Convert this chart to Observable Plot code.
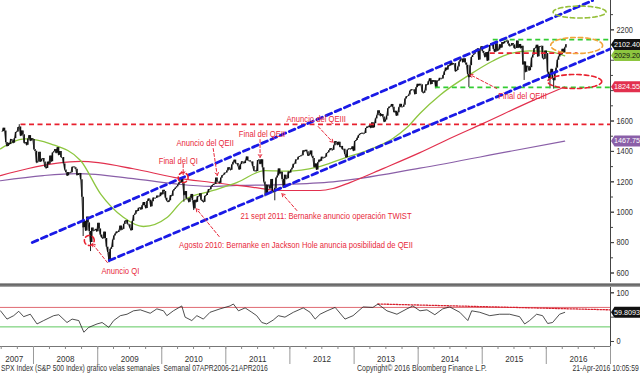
<!DOCTYPE html>
<html><head><meta charset="utf-8">
<script src="https://cdn.jsdelivr.net/npm/d3@7"></script>
<script src="https://cdn.jsdelivr.net/npm/@observablehq/plot@0.6"></script>
<style>
body{margin:0;background:#fff;}
#wrap{width:640px;height:373px;position:relative;overflow:hidden;font-family:"Liberation Sans","Arial",sans-serif;}
#wrap svg{display:block;}
.sep{position:absolute;left:0;top:283px;width:640px;height:4px;background:linear-gradient(#bbb,#666 35%,#777 65%,#bbb);}
.foot{position:absolute;top:364px;font-size:8.5px;color:#333;white-space:pre;line-height:9px;}
</style></head><body><div id="wrap"></div>
<script>
// ---------------- DATA ----------------
const firstWeek = "2007-07-06"; // weekly closes, one per week (Friday)
const c2007 = [1530,1553,1534,1459,1433,1453,1445,1479,1474,1454,1484,1525,1527,1557,1561,1501,1535,1509,1453,1458,1440,1481,1504,1468,1484,1478];
const c2008 = [1411,1401,1325,1330,1395,1331,1349,1353,1331,1294,1288,1330,1316,1370,1332,1390,1397,1413,1388,1425,1375,1400,1360,1360,1318,1278,1262,1239,1260,1257,1260,1296,1298,1292,1283,1242,1252,1255,1213,1099,899,940,877,968,930,873,800,896,876,880,887,872];
const c2009 = [927,890,850,832,826,869,827,770,735,683,756,768,816,843,857,870,866,877,909,883,887,919,940,946,921,918,896,879,940,979,987,1010,1005,1026,1029,1016,1042,1064,1044,1025,1071,1087,1079,1036,1069,1093,1091,1091,1106,1102,1102,1127,1115];
const c2010 = [1145,1136,1092,1074,1066,1075,1109,1105,1139,1150,1159,1167,1179,1194,1192,1217,1187,1111,1136,1088,1089,1065,1092,1117,1076,1023,1078,1065,1102,1102,1122,1079,1071,1065,1105,1110,1126,1149,1147,1166,1176,1183,1183,1225,1200,1199,1190,1224,1240,1244,1257,1258];
const c2011 = [1271,1293,1283,1276,1311,1329,1343,1320,1321,1304,1279,1313,1332,1328,1320,1337,1364,1340,1338,1333,1331,1300,1271,1272,1268,1340,1344,1316,1345,1292,1199,1179,1124,1177,1174,1154,1216,1136,1131,1155,1225,1238,1285,1253,1263,1216,1159,1244,1219,1220,1265,1258];
const c2012 = [1278,1289,1315,1316,1344,1343,1361,1366,1370,1371,1404,1398,1408,1398,1370,1378,1403,1369,1353,1295,1318,1278,1325,1343,1335,1362,1355,1357,1362,1386,1391,1405,1418,1411,1407,1438,1466,1460,1441,1461,1428,1433,1412,1414,1380,1359,1409,1416,1418,1413,1430,1402];
const c2013 = [1466,1472,1486,1503,1513,1518,1520,1516,1518,1551,1561,1557,1569,1553,1588,1555,1582,1614,1634,1667,1650,1631,1643,1626,1593,1606,1632,1680,1692,1692,1709,1691,1656,1664,1633,1655,1688,1710,1692,1691,1703,1745,1760,1762,1771,1798,1805,1806,1805,1775,1819,1842];
const c2014 = [1831,1842,1838,1790,1783,1797,1838,1836,1859,1878,1841,1866,1857,1865,1816,1864,1863,1881,1878,1877,1900,1924,1949,1936,1963,1961,1985,1968,1978,1978,1925,1932,1955,1988,2003,2008,1985,2010,1982,1967,1906,1887,1964,2018,2032,2039,2064,2068,2075,2002,2071,2089];
const c2015 = [2058,2045,2019,2051,1995,2055,2097,2110,2105,2071,2053,2108,2061,2067,2102,2081,2117,2108,2122,2123,2126,2107,2092,2094,2110,2101,2077,2077,2127,2080,2104,2078,2092,1971,1989,1921,1961,1958,1931,1951,2014,2033,2075,2079,2099,2023,2089,2090,2092,2012,2006,2061,2044];
const c2016 = [1922,1880,1907,1940,1880,1865,1918,1948,2000,2022,2050,2036,2073,2048,2081,2102];

// intraweek extremes (wicks) of notable weeks
const wickWeeks  = ["2007-10-12","2008-10-10","2008-11-21","2009-03-06","2010-05-07","2010-07-02","2011-08-12","2011-10-07","2014-10-17","2015-05-22","2015-08-28","2016-01-22","2016-02-12"];
const wickValues = [1576,840,741,667,1066,1011,1101,1075,1821,2134,1867,1812,1810];

// moving averages
const ma50Dates  = ["2007-06-27","2007-11-15","2008-04-07","2008-09-25","2009-01-17","2009-05-27","2009-09-18","2010-02-02","2010-05-03","2010-10-21","2011-03-07","2011-08-12","2011-12-15","2012-06-04","2012-10-29","2013-03-15","2013-08-10","2013-10-29","2014-01-11","2014-05-05","2014-10-22","2015-03-02","2015-06-06","2015-09-28","2016-01-09","2016-04-15"];
const ma50Values = [1417,1483,1450,1340,1121,967,906,967,1077,1143,1197,1274,1270,1296,1353,1406,1485,1557,1650,1770,1905,1995,2044,2062,2058,2029.2];
const ma200Dates  = ["2007-06-27","2007-11-27","2008-09-25","2009-07-23","2010-03-18","2010-10-03","2011-06-05","2011-11-05","2012-06-21","2012-09-03","2012-12-08","2013-06-15","2014-01-11","2014-06-30","2015-01-04","2015-10-15","2016-04-15"];
const ma200Values = [1241,1286,1334,1286,1228,1197,1164,1143,1143,1156,1195,1287,1392,1485,1583,1734,1824.55];
const ma500Dates  = ["2007-06-27","2008-02-26","2008-09-08","2009-07-23","2010-03-07","2010-10-03","2011-03-07","2011-11-05","2012-09-03","2014-01-11","2015-06-06","2016-04-15"];
const ma500Values = [1207,1241,1254,1221,1188,1170,1176,1182,1200,1290,1400,1467.75];

// RSI (weekly)
const rsiDates = ["2007-06-27","2007-08-03","2007-09-10","2007-10-09","2007-11-06","2007-12-14","2008-01-21","2008-02-28","2008-04-25","2008-05-24","2008-07-10","2008-08-08","2008-09-15","2008-10-14","2008-11-11","2008-12-28","2009-01-26","2009-03-05","2009-04-02","2009-05-10","2009-06-17","2009-07-24","2009-09-01","2009-10-27","2009-12-04","2010-01-11","2010-01-30","2010-03-08","2010-04-25","2010-05-14","2010-06-21","2010-07-20","2010-08-26","2010-10-03","2010-11-29","2011-01-25","2011-02-13","2011-03-14","2011-04-21","2011-05-29","2011-06-26","2011-07-25","2011-08-22","2011-09-28","2011-10-27","2011-12-04","2012-01-21","2012-03-17","2012-04-25","2012-05-24","2012-06-21","2012-07-31","2012-09-15","2012-11-10","2012-12-26","2013-02-21","2013-04-18","2013-05-17","2013-07-07","2013-09-02","2013-10-29","2013-12-02","2014-01-11","2014-02-20","2014-04-06","2014-05-21","2014-06-30","2014-08-26","2014-10-11","2014-11-02","2014-12-18","2015-02-13","2015-04-10","2015-06-06","2015-08-02","2015-08-31","2015-09-28","2015-11-07","2015-12-11","2016-01-09","2016-02-06","2016-03-17","2016-04-15"];
const rsiValues = [63,46,53,62,51,56,36,43,53,55,39,46,43,19,29,36,39,29,43,53,56,63,65,58,67,63,53,63,73,50,43,53,46,60,67,73,77,63,69,60,53,39,36,44,53,50,60,69,60,46,56,63,70,46,53,71,70,77,63,56,67,73,63,65,55,67,71,60,43,63,60,53,56,56,51,36,43,56,53,37,39,56,59.8];

// annotation content
const levelFrom   = ["2007-10-19","2015-03-02","2015-02-13","2014-04-06"];
const levelTo     = ["2017-01-01","2017-01-01","2016-06-27","2017-01-01"];
const levelValues = [1578,2135,2047,1822];
const levelKinds  = ["red","green","red","green"];

const channelUpper = [["2007-12-25",800.7],["2016-09-21",2393]];
const channelLower = [["2009-03-08",682],["2017-01-01",2075]];

const noteDates  = ["2009-05-10","2010-04-05","2010-09-05","2011-07-26","2012-05-30","2012-07-25","2012-02-05","2015-08-19"];
const noteValues = [610,1334,1452,1511,1610,972,781,1761];
const noteTexts  = ["Anuncio QI","Final del QI","Anuncio del QEII","Final del QEII","Anuncio del QEIII","21 sept 2011: Bernanke anuncio operación TWIST","Agosto 2010: Bernanke en Jackson Hole anuncia posibilidad de QEII","Final del QEIII"];

const arrowFrom   = ["2009-02-25","2010-05-03","2010-10-21","2011-07-15","2012-06-10","2012-02-10","2010-11-24","2015-03-25"];
const arrowFromV  = [669,1314,1419,1478,1564,1011,840,1814];
const arrowTo     = ["2008-12-01","2010-05-03","2010-11-13","2011-07-15","2012-09-03","2011-11-17","2010-07-16","2014-10-22"];
const arrowToV    = [794,1248,1241,1360,1459,1123,1024,1906];

const ellipseDates  = ["2016-07-09","2016-06-22","2016-06-11","2008-11-14","2010-05-03"];
const ellipseValues = [2317,2097,1860,814,1228];
const ellipseRxDays = [151,148,154,28,28];
const ellipseRy     = [39.5,53,46,33,33];
const ellipseKinds  = ["olive","orange","red","red","red"];

const yTicks = [600,800,1000,1200,1400,1600,1800,2000,2200];
const yLabelTicks = [600,800,1000,1200,1400,1600,2200]; // 1800 and 2000 sit under the value tags
const yMinorTicks = [700,900,1100,1300,1500,1700,1900,2100,2300];
const rsiTicks = [0,50,100];
const rsiLabelTicks = [0,100]; // 50 sits under the value tag
const rsiUpper = 70, rsiLower = 30;
const rsiTrend = [["2013-05-17",77],["2017-01-01",65]];

const yearLabelDates = ["2007-09-14","2008-07-02","2009-07-02","2010-07-02","2011-07-02","2012-07-02","2013-07-02","2014-07-02","2015-07-02","2016-07-02"];

const mainTags = [
  {label:"2102.40", value:2102.40, bg:"#111111", fg:"#ffffff"},
  {label:"2029.20", value:2029.20, bg:"#8dc63f", fg:"#111111"},
  {label:"1824.55", value:1824.55, bg:"#e2304e", fg:"#ffffff"},
  {label:"1467.75", value:1467.75, bg:"#8a5fa8", fg:"#ffffff"}
];
const rsiTags = [{label:"59.8093", value:59.8093, bg:"#111111", fg:"#ffffff"}];
const footLeft = "SPX Index (S&P 500 Index) grafico velas semanales  Semanal 07APR2006-21APR2016";
const footMid = "Copyright\u00a9 2016 Bloomberg Finance L.P.";
const footRight = "21-Apr-2016 10:05:59";

// ---------------- BUILD ----------------
const FONT = '"Liberation Sans",Arial,sans-serif';
const COLORS = {red:"#e8202e", green:"#33cc33", olive:"#96c03a", orange:"#f2a43a", blue:"#1a1ae6",
  ma50:"#8dc63f", ma200:"#e2304e", ma500:"#8a5fa8", note:"#e8293b"};
const D = s => new Date(s);
const X0 = D("2007-06-27"), X1 = D("2017-01-01");

const closes = [...c2007,...c2008,...c2009,...c2010,...c2011,...c2012,...c2013,...c2014,...c2015,...c2016];
const candles = closes.map((c,i) => ({date: d3.utcDay.offset(D(firstWeek), 7*i), open: i ? closes[i-1] : c, close: c}));
const byDate = new Map(candles.map(d => [d3.utcFormat("%Y-%m-%d")(d.date), d]));
const wicks = wickWeeks.map((w,i) => ({date: byDate.get(w).date, v1: wickValues[i], v2: byDate.get(w).close}));

const series = (dates, values) => dates.map((d,i) => ({date: D(d), value: values[i]}));
const ma50 = series(ma50Dates, ma50Values);
const ma200 = series(ma200Dates, ma200Values);
const ma500 = series(ma500Dates, ma500Values);
const rsi = series(rsiDates, rsiValues);

const levels = levelFrom.map((f,i) => ({from: D(f), to: D(levelTo[i]), value: levelValues[i], kind: levelKinds[i]}));
const chan = pts => pts.map(p => ({date: D(p[0]), value: p[1]}));
const notes = noteDates.map((d,i) => ({date: D(d), value: noteValues[i], text: noteTexts[i]}));
const arrows = arrowFrom.map((d,i) => ({x1: D(d), y1: arrowFromV[i], x2: D(arrowTo[i]), y2: arrowToV[i]}));
const DAY = 864e5;
const ellipses = ellipseDates.map((d,i) => {
  const c = D(d);
  return {kind: ellipseKinds[i], pts: d3.range(0, 361, 6).map(a => ({
    date: new Date(+c + ellipseRxDays[i]*DAY*Math.cos(a*Math.PI/180)),
    value: ellipseValues[i] + ellipseRy[i]*Math.sin(a*Math.PI/180)}))};
});

const dash = {strokeDasharray: "5,3.5"};
const plain = d => String(d);
const none = () => "";
const main = Plot.plot({
  width: 640, height: 283, marginLeft: 0, marginRight: 30, marginTop: 0, marginBottom: 1,
  style: {fontFamily: FONT, fontSize: "9px", color: "#333", background: "transparent", overflow: "visible"},
  x: {type: "utc", domain: [X0, X1], axis: null, label: null},
  y: {domain: [537.5, 2393], label: null},
  marks: [
    Plot.line(ma500, {x: "date", y: "value", stroke: COLORS.ma500, strokeWidth: 1.2, curve: "monotone-x"}),
    Plot.line(ma200, {x: "date", y: "value", stroke: COLORS.ma200, strokeWidth: 1.2, curve: "monotone-x"}),
    Plot.line(ma50, {x: "date", y: "value", stroke: COLORS.ma50, strokeWidth: 1.3, curve: "monotone-x"}),
    Plot.ruleX(wicks, {x: "date", y1: "v1", y2: "v2", stroke: "#222", strokeWidth: 1}),
    Plot.line(candles, {x: "date", y: "close", stroke: "#333", strokeWidth: 0.9}),
    Plot.ruleX(candles, {x: "date", y1: "open", y2: "close", stroke: "#111", strokeWidth: 1.5}),
    Plot.link(levels.filter(d => d.kind === "red"), {x1: "from", x2: "to", y1: "value", y2: "value", stroke: COLORS.red, strokeWidth: 1.8, ...dash}),
    Plot.link(levels.filter(d => d.kind === "green"), {x1: "from", x2: "to", y1: "value", y2: "value", stroke: COLORS.green, strokeWidth: 1.8, ...dash}),
    Plot.line(chan(channelUpper), {x: "date", y: "value", stroke: COLORS.blue, strokeWidth: 2.8, strokeDasharray: "6,4"}),
    Plot.line(chan(channelLower), {x: "date", y: "value", stroke: COLORS.blue, strokeWidth: 2.8, strokeDasharray: "6,4"}),
    ...ellipses.map(e => Plot.line(e.pts, {x: "date", y: "value", stroke: COLORS[e.kind], strokeWidth: 1.6, strokeDasharray: "4.5,3"})),
    Plot.arrow(arrows, {x1: "x1", y1: "y1", x2: "x2", y2: "y2", stroke: COLORS.note, strokeWidth: 1, strokeDasharray: "3,2", headLength: 5, bend: 0}),
    Plot.text(notes, {x: "date", y: "value", text: "text", fill: COLORS.note, fontSize: 8.5}),
    Plot.ruleX([X1], {stroke: "#444", strokeWidth: 1}),
    Plot.axisY(yMinorTicks, {anchor: "right", tickSize: 2, tickFormat: none, stroke: "#444", label: null}),
    Plot.axisY(yTicks, {anchor: "right", tickSize: 3, tickFormat: none, stroke: "#444", label: null}),
    Plot.axisY(yLabelTicks, {anchor: "right", tickSize: 3, tickPadding: 3, fontSize: 9, stroke: "#444", fill: "#333", tickFormat: plain, label: null}),
    Plot.text(mainTags, {y: "value", text: "label", frameAnchor: "right", dx: 3.5, textAnchor: "start", fontSize: 7.2, fill: "white"})
  ]
});

const quarterTicks = d3.utcMonth.every(3).range(X0, X1);
const yearStarts = d3.utcYear.range(D("2008-01-01"), D("2017-01-02"));
const lower = Plot.plot({
  width: 640, height: 82, marginLeft: 0, marginRight: 30, marginTop: 4, marginBottom: 19,
  style: {fontFamily: FONT, fontSize: "9px", color: "#333", background: "transparent", overflow: "visible"},
  x: {type: "utc", domain: [X0, X1], label: null},
  y: {domain: [-10.3, 110.9], label: null},
  marks: [
    Plot.ruleY([rsiUpper], {stroke: "#e06a72", strokeWidth: 1}),
    Plot.ruleY([rsiLower], {stroke: "#5fc85f", strokeWidth: 1}),
    Plot.line(chan(rsiTrend), {x: "date", y: "value", stroke: "#d8202e", strokeWidth: 1.3, strokeDasharray: "1.5,1.5"}),
    Plot.line(rsi, {x: "date", y: "value", stroke: "#222", strokeWidth: 0.8}),
    Plot.ruleY([-10.3], {stroke: "#777"}),
    Plot.ruleX([X1], {stroke: "#444"}),
    Plot.axisY(rsiTicks, {anchor: "right", tickSize: 3, tickFormat: none, stroke: "#444", label: null}),
    Plot.axisY(rsiLabelTicks, {anchor: "right", tickSize: 3, tickPadding: 3, fontSize: 9, stroke: "#444", tickFormat: plain, label: null}),
    Plot.axisX(quarterTicks, {tickSize: 3, tickFormat: none, stroke: "#888", label: null}),
    Plot.axisX(yearStarts, {tickSize: 18, tickFormat: none, stroke: "#999", label: null}),
    Plot.axisX(yearLabelDates.map(D), {tickSize: 0, tickPadding: 9, tickFormat: d3.utcFormat("%Y"), fontSize: 9, label: null}),
    Plot.text(rsiTags, {y: "value", text: "label", frameAnchor: "right", dx: 3.5, textAnchor: "start", fontSize: 7.2, fill: "white"})
  ]
});

const wrap = document.getElementById("wrap");
wrap.append(main);
wrap.append(lower);
const sep = document.createElement("div"); sep.className = "sep"; wrap.append(sep);
[[footLeft, "left:1px", "left", 0.8], [footMid, "left:357px", "left", 0.83], [footRight, "right:1px", "right", 0.8]].forEach(([t, pos, origin, k]) => {
  const s = document.createElement("div"); s.className = "foot"; s.textContent = t;
  s.style.cssText = pos + `;transform:scaleX(${k});transform-origin:${origin} center;`;
  wrap.append(s);
});

// drop the empty labels of tick-only axes; condense the rest (Bloomberg's narrow face)
function condense(svg, tags) {
  svg.querySelectorAll("text").forEach(t => {
    const txt = t.textContent;
    if (!txt) { t.remove(); return; }
    if (tags.some(g => g.label === txt)) return;
    const len = t.getComputedTextLength();
    let k = 0.82;
    if (noteTexts.includes(txt)) k = 0.9;
    else if (/^\d{4}$/.test(txt) && t.closest("g[aria-label^='x-axis']")) k = 0.9;
    t.setAttribute("textLength", (len * k).toFixed(1));
    t.setAttribute("lengthAdjust", "spacingAndGlyphs");
  });
}
function decorateTags(svg, tags) {
  d3.select(svg).selectAll("text").each(function() {
    const t = tags.find(t => t.label === this.textContent);
    if (!t) return;
    const b = this.getBBox();
    const top = b.y - 1, bot = b.y + b.height + 1, x0 = b.x - 3, mid = (top + bot) / 2;
    const p = document.createElementNS("http://www.w3.org/2000/svg", "path");
    p.setAttribute("d", `M${x0},${mid}L${x0+3.5},${top}L${b.x+b.width+8},${top}L${b.x+b.width+8},${bot}L${x0+3.5},${bot}Z`);
    p.setAttribute("fill", t.bg);
    const tr = this.getAttribute("transform"); if (tr) p.setAttribute("transform", tr);
    this.parentNode.insertBefore(p, this);
    this.setAttribute("fill", t.fg);
  });
}
condense(main, mainTags);
condense(lower, rsiTags);
decorateTags(main, mainTags);
decorateTags(lower, rsiTags);
</script></body></html>
